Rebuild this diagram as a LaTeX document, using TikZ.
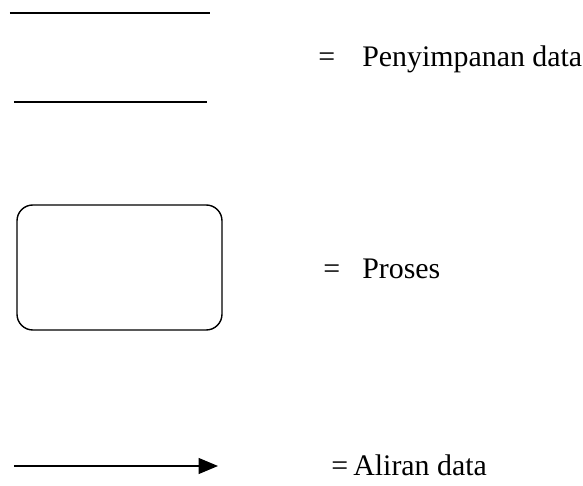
\documentclass[tikz,border=0pt]{standalone}
\usepackage{fontspec}
\setmainfont{Liberation Serif}
\usetikzlibrary{arrows.meta}
\begin{document}
\begin{tikzpicture}[x=0.02cm,y=-0.02cm,
  line/.style={line width=0.9pt},
  label/.style={anchor=base west,inner sep=0pt,font=\fontsize{17}{20}\selectfont},
  proc/.style={draw,line width=0.8pt,rounded corners=9pt,minimum width=205*0.02cm,minimum height=125*0.02cm,inner sep=0pt}]
  \useasboundingbox (0,0) rectangle (583,486);
  % penyimpanan data
  \coordinate (s1a) at (10,13);
  \coordinate (s1b) at (210,13);
  \coordinate (s2a) at (14,102);
  \coordinate (s2b) at (207,102);
  \draw[line] (s1a) -- (s1b);
  \draw[line] (s2a) -- (s2b);
  \node[label] (eq1) at (318,67) {=};
  \node[label] (store) at (362,67) {Penyimpanan data};
  % proses
  \node[proc] (box) at (119.5,267.5) {};
  \node[label] (eq2) at (323,279) {=};
  \node[label] (proc) at (362,279) {Proses};
  % aliran data
  \coordinate (fa) at (14,466);
  \coordinate (fb) at (218,466);
  \draw[line,-{Triangle[length=11pt,width=9pt]}] (fa) -- (fb);
  \node[label] (eq3) at (331,476) {=};
  \node[label] (flow) at (353,476) {Aliran data};
\end{tikzpicture}
\end{document}
